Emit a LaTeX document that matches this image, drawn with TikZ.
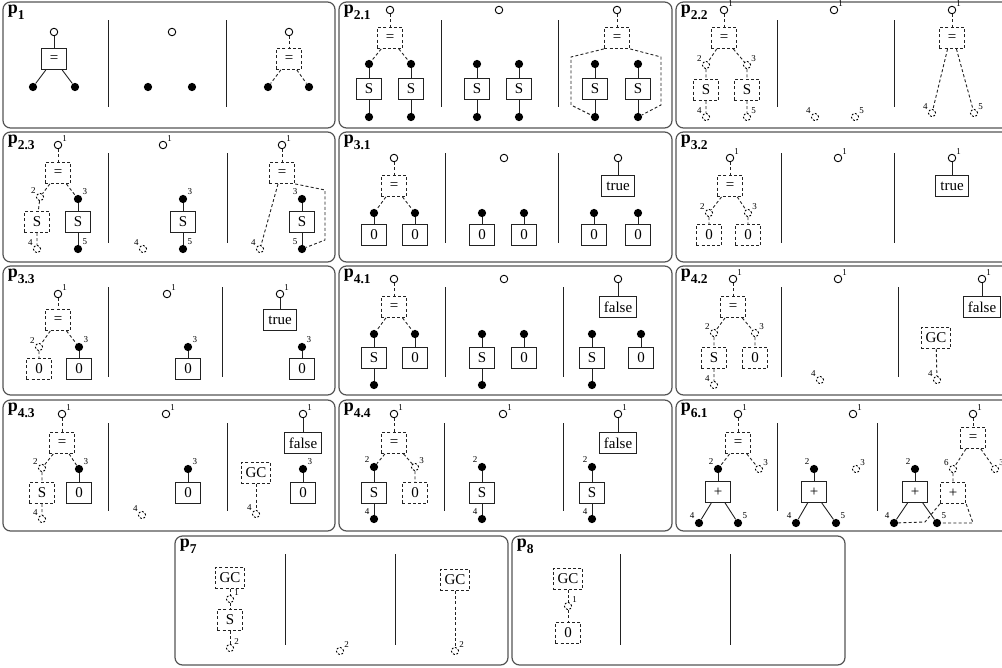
\documentclass[tikz,border=0pt]{standalone}
\usepackage{fontspec}
\setmainfont{Liberation Serif}
\usetikzlibrary{positioning}
\definecolor{frame}{HTML}{555555}
\definecolor{ink}{HTML}{222222}
\newcommand{\psub}[1]{p\raisebox{-0.75ex}{\small\bfseries #1}}

\begin{document}
\begin{tikzpicture}[x=0.6667pt, y=-0.6667pt, font=\normalsize,
    panel/.style={draw=frame, line width=0.8pt, rounded corners=5pt},
    divider/.style={draw=ink, line width=0.55pt},
    ptitle/.style={anchor=north west, font=\large\bfseries, inner sep=1pt},
    ext/.style={circle, draw=black, fill=white, line width=0.6pt, minimum size=5pt, inner sep=0pt},
    port/.style={circle, fill=black, minimum size=5.5pt, inner sep=0pt},
    ghost/.style={circle, draw=black, line width=0.6pt, dash pattern=on 1.3pt off 1.1pt,
                  minimum size=4.8pt, inner sep=0pt},
    op/.style={draw=ink, line width=0.6pt, minimum width=17pt, minimum height=14pt, inner sep=3pt},
    gop/.style={op, dash pattern=on 2pt off 1.5pt},
    wire/.style={draw=ink, line width=0.6pt},
    gwire/.style={wire, dash pattern=on 2pt off 1.5pt},
    num/.style={font=\fontsize{6}{7}\selectfont, inner sep=0.6pt},
    tagr/.style={label={[num]40:#1}},
    tagl/.style={label={[num]140:#1}}]
  \useasboundingbox (0,0) rectangle (1002,667);
  \clip (0,0) rectangle (1002,667);

  % frames
  \draw[panel] (3,2) rectangle (335,128);
  \draw[panel] (339,2) rectangle (672,128);
  \draw[panel] (676,2) rectangle (1009,128);
  \draw[panel] (3,132) rectangle (335,262);
  \draw[panel] (339,132) rectangle (672,262);
  \draw[panel] (676,132) rectangle (1009,262);
  \draw[panel] (3,266) rectangle (335,395);
  \draw[panel] (339,266) rectangle (672,395);
  \draw[panel] (676,266) rectangle (1009,395);
  \draw[panel] (3,400) rectangle (335,531);
  \draw[panel] (339,400) rectangle (672,531);
  \draw[panel] (676,400) rectangle (1009,531);
  \draw[panel] (175,536) rectangle (508,665);
  \draw[panel] (512,536) rectangle (845,665);

  \node[ptitle] (t1)  at (6,3)     {\psub{1}};
  \node[ptitle] (t21) at (342,3)   {\psub{2.1}};
  \node[ptitle] (t22) at (679,3)   {\psub{2.2}};
  \node[ptitle] (t23) at (6,133)   {\psub{2.3}};
  \node[ptitle] (t31) at (342,133) {\psub{3.1}};
  \node[ptitle] (t32) at (679,133) {\psub{3.2}};
  \node[ptitle] (t33) at (6,267)   {\psub{3.3}};
  \node[ptitle] (t41) at (342,267) {\psub{4.1}};
  \node[ptitle] (t42) at (679,267) {\psub{4.2}};
  \node[ptitle] (t43) at (6,401)   {\psub{4.3}};
  \node[ptitle] (t44) at (342,401) {\psub{4.4}};
  \node[ptitle] (t61) at (679,401) {\psub{6.1}};
  \node[ptitle] (t7)  at (178,537) {\psub{7}};
  \node[ptitle] (t8)  at (515,537) {\psub{8}};

  % dividers
  \draw[divider] (108,20) -- (108,107);  \draw[divider] (226,20) -- (226,107);
  \draw[divider] (441,20) -- (441,107);  \draw[divider] (558,20) -- (558,107);
  \draw[divider] (777,20) -- (777,107);  \draw[divider] (894,20) -- (894,107);
  \draw[divider] (108,153) -- (108,243); \draw[divider] (227,153) -- (227,243);
  \draw[divider] (445,153) -- (445,243); \draw[divider] (558,153) -- (558,243);
  \draw[divider] (781,153) -- (781,243); \draw[divider] (894,153) -- (894,243);
  \draw[divider] (108,287) -- (108,377); \draw[divider] (222,287) -- (222,377);
  \draw[divider] (445,287) -- (445,377); \draw[divider] (563,287) -- (563,377);
  \draw[divider] (781,287) -- (781,377); \draw[divider] (898,287) -- (898,377);
  \draw[divider] (108,423) -- (108,511); \draw[divider] (227,423) -- (227,511);
  \draw[divider] (444,423) -- (444,511); \draw[divider] (563,423) -- (563,511);
  \draw[divider] (777,423) -- (777,511); \draw[divider] (877,423) -- (877,511);
  \draw[divider] (285,554) -- (285,645); \draw[divider] (395,554) -- (395,645);
  \draw[divider] (620,554) -- (620,645); \draw[divider] (730,554) -- (730,645);

  % p1
  \node[ext] (a1r) at (54,32) {};
  \node[op] (a1q) at (54,59) {=};
  \node[port] (a1x) at (33,87) {};
  \node[port] (a1y) at (75,87) {};
  \draw[wire] (a1r) -- (a1q);
  \draw[wire] (a1q) -- (a1x);
  \draw[wire] (a1q) -- (a1y);
  \node[ext] (a2r) at (172,32) {};
  \node[port] (a2x) at (148,87) {};
  \node[port] (a2y) at (192,87) {};
  \node[ext] (a3r) at (289,32) {};
  \node[gop] (a3q) at (289,59) {=};
  \node[port] (a3x) at (268,87) {};
  \node[port] (a3y) at (309,87) {};
  \draw[gwire] (a3r) -- (a3q);
  \draw[gwire] (a3q) -- (a3x);
  \draw[gwire] (a3q) -- (a3y);

  % p2.1
  \node[ext] (b1r) at (390,10) {};
  \node[gop] (b1q) at (390,38) {=};
  \node[port] (b1x) at (369,64) {};
  \node[port] (b1y) at (411,64) {};
  \node[op] (b1s) at (369,89) {S};
  \node[op] (b1t) at (411,89) {S};
  \node[port] (b1u) at (369,117) {};
  \node[port] (b1v) at (411,117) {};
  \draw[gwire] (b1r) -- (b1q);
  \draw[gwire] (b1q) -- (b1x);
  \draw[gwire] (b1q) -- (b1y);
  \draw[wire] (b1x) -- (b1s) -- (b1u);
  \draw[wire] (b1y) -- (b1t) -- (b1v);
  \node[ext] (b2r) at (499,10) {};
  \node[port] (b2x) at (477,64) {};
  \node[port] (b2y) at (519,64) {};
  \node[op] (b2s) at (477,89) {S};
  \node[op] (b2t) at (519,89) {S};
  \node[port] (b2u) at (477,117) {};
  \node[port] (b2v) at (519,117) {};
  \draw[wire] (b2x) -- (b2s) -- (b2u);
  \draw[wire] (b2y) -- (b2t) -- (b2v);
  \node[ext] (b3r) at (617,10) {};
  \node[gop] (b3q) at (617,38) {=};
  \node[port] (b3x) at (595,64) {};
  \node[port] (b3y) at (638,64) {};
  \node[op] (b3s) at (595,89) {S};
  \node[op] (b3t) at (638,89) {S};
  \node[port] (b3u) at (595,117) {};
  \node[port] (b3v) at (638,117) {};
  \draw[gwire] (b3r) -- (b3q);
  \draw[wire] (b3x) -- (b3s) -- (b3u);
  \draw[wire] (b3y) -- (b3t) -- (b3v);
  \draw[gwire] (b3q.south west) -- (571,57) -- (571,105) -- (b3u);
  \draw[gwire] (b3q.south east) -- (661,57) -- (661,105) -- (b3v);

  % p2.2
  \node[ext, tagr=1] (c1r) at (724,10) {};
  \node[gop] (c1q) at (724,38) {=};
  \node[ghost, tagl=2] (c1g2) at (706,65) {};
  \node[ghost, tagr=3] (c1g3) at (747,65) {};
  \node[gop] (c1s) at (706,90) {S};
  \node[gop] (c1t) at (747,90) {S};
  \node[ghost, tagl=4] (c1g4) at (706,117) {};
  \node[ghost, tagr=5] (c1g5) at (747,117) {};
  \draw[gwire] (c1r) -- (c1q);
  \draw[gwire] (c1q) -- (c1g2) -- (c1s) -- (c1g4);
  \draw[gwire] (c1q) -- (c1g3) -- (c1t) -- (c1g5);
  \node[ext, tagr=1] (c2r) at (834,10) {};
  \node[ghost, tagl=4] (c2g4) at (815,117) {};
  \node[ghost, tagr=5] (c2g5) at (855,117) {};
  \node[ext, tagr=1] (c3r) at (952,10) {};
  \node[gop] (c3q) at (952,38) {=};
  \node[ghost, tagl=4] (c3g4) at (932,113) {};
  \node[ghost, tagr=5] (c3g5) at (974,113) {};
  \draw[gwire] (c3r) -- (c3q);
  \draw[gwire] (c3q.-112) -- (c3g4);
  \draw[gwire] (c3q.-68) -- (c3g5);

  % p2.3
  \node[ext, tagr=1] (d1r) at (58,145) {};
  \node[gop] (d1q) at (58,173) {=};
  \node[ghost, tagl=2] (d1g2) at (40,197) {};
  \node[port, tagr=3] (d1p3) at (78,199) {};
  \node[gop] (d1s) at (37,222) {S};
  \node[op] (d1t) at (78,222) {S};
  \node[ghost, tagl=4] (d1g4) at (37,249) {};
  \node[port, tagr=5] (d1p5) at (78,249) {};
  \draw[gwire] (d1r) -- (d1q);
  \draw[gwire] (d1q) -- (d1g2) -- (d1s) -- (d1g4);
  \draw[gwire] (d1q) -- (d1p3);
  \draw[wire] (d1p3) -- (d1t) -- (d1p5);
  \node[ext, tagr=1] (d2r) at (163,145) {};
  \node[port, tagr=3] (d2p3) at (183,199) {};
  \node[op] (d2t) at (183,222) {S};
  \node[port, tagr=5] (d2p5) at (183,249) {};
  \node[ghost, tagl=4] (d2g4) at (143,249) {};
  \draw[wire] (d2p3) -- (d2t) -- (d2p5);
  \node[ext, tagr=1] (d3r) at (282,145) {};
  \node[gop] (d3q) at (282,173) {=};
  \node[port, tagl=3] (d3p3) at (302,199) {};
  \node[op] (d3t) at (302,222) {S};
  \node[port, tagl=5] (d3p5) at (302,249) {};
  \node[ghost, tagl=4] (d3g4) at (260,249) {};
  \draw[gwire] (d3r) -- (d3q);
  \draw[wire] (d3p3) -- (d3t) -- (d3p5);
  \draw[gwire] (d3q.-110) -- (d3g4);
  \draw[gwire] (d3q.south east) -- (325,190) -- (325,240) -- (d3p5);

  % p3.1
  \node[ext] (e1r) at (394,158) {};
  \node[gop] (e1q) at (394,186) {=};
  \node[port] (e1x) at (374,213) {};
  \node[port] (e1y) at (415,213) {};
  \node[op] (e1s) at (374,235) {0};
  \node[op] (e1t) at (415,235) {0};
  \draw[gwire] (e1r) -- (e1q);
  \draw[gwire] (e1q) -- (e1x);
  \draw[gwire] (e1q) -- (e1y);
  \draw[wire] (e1x) -- (e1s);
  \draw[wire] (e1y) -- (e1t);
  \node[ext] (e2r) at (504,158) {};
  \node[port] (e2x) at (482,213) {};
  \node[port] (e2y) at (524,213) {};
  \node[op] (e2s) at (482,235) {0};
  \node[op] (e2t) at (524,235) {0};
  \draw[wire] (e2x) -- (e2s);
  \draw[wire] (e2y) -- (e2t);
  \node[ext] (e3r) at (618,158) {};
  \node[op] (e3q) at (618,186) {true};
  \node[port] (e3x) at (594,213) {};
  \node[port] (e3y) at (638,213) {};
  \node[op] (e3s) at (594,235) {0};
  \node[op] (e3t) at (638,235) {0};
  \draw[wire] (e3r) -- (e3q);
  \draw[wire] (e3x) -- (e3s);
  \draw[wire] (e3y) -- (e3t);

  % p3.2
  \node[ext, tagr=1] (f1r) at (730,158) {};
  \node[gop] (f1q) at (730,186) {=};
  \node[ghost, tagl=2] (f1g2) at (709,213) {};
  \node[ghost, tagr=3] (f1g3) at (748,213) {};
  \node[gop] (f1s) at (709,235) {0};
  \node[gop] (f1t) at (748,235) {0};
  \draw[gwire] (f1r) -- (f1q);
  \draw[gwire] (f1q) -- (f1g2) -- (f1s);
  \draw[gwire] (f1q) -- (f1g3) -- (f1t);
  \node[ext, tagr=1] (f2r) at (838,158) {};
  \node[ext, tagr=1] (f3r) at (952,158) {};
  \node[op] (f3q) at (952,186) {true};
  \draw[wire] (f3r) -- (f3q);

  % p3.3
  \node[ext, tagr=1] (g1r) at (58,294) {};
  \node[gop] (g1q) at (58,320) {=};
  \node[ghost, tagl=2] (g1g2) at (39,347) {};
  \node[port, tagr=3] (g1p3) at (79,347) {};
  \node[gop] (g1s) at (39,369) {0};
  \node[op] (g1t) at (79,369) {0};
  \draw[gwire] (g1r) -- (g1q);
  \draw[gwire] (g1q) -- (g1g2) -- (g1s);
  \draw[gwire] (g1q) -- (g1p3);
  \draw[wire] (g1p3) -- (g1t);
  \node[ext, tagr=1] (g2r) at (167,294) {};
  \node[port, tagr=3] (g2p3) at (188,347) {};
  \node[op] (g2t) at (188,369) {0};
  \draw[wire] (g2p3) -- (g2t);
  \node[ext, tagr=1] (g3r) at (280,294) {};
  \node[op] (g3q) at (280,320) {true};
  \node[port, tagr=3] (g3p3) at (302,347) {};
  \node[op] (g3t) at (302,369) {0};
  \draw[wire] (g3r) -- (g3q);
  \draw[wire] (g3p3) -- (g3t);

  % p4.1
  \node[ext] (h1r) at (394,279) {};
  \node[gop] (h1q) at (394,307) {=};
  \node[port] (h1x) at (374,334) {};
  \node[port] (h1y) at (415,334) {};
  \node[op] (h1s) at (374,358) {S};
  \node[op] (h1t) at (415,358) {0};
  \node[port] (h1u) at (374,385) {};
  \draw[gwire] (h1r) -- (h1q);
  \draw[gwire] (h1q) -- (h1x);
  \draw[gwire] (h1q) -- (h1y);
  \draw[wire] (h1x) -- (h1s) -- (h1u);
  \draw[wire] (h1y) -- (h1t);
  \node[ext] (h2r) at (504,279) {};
  \node[port] (h2x) at (482,334) {};
  \node[port] (h2y) at (524,334) {};
  \node[op] (h2s) at (482,358) {S};
  \node[op] (h2t) at (524,358) {0};
  \node[port] (h2u) at (482,385) {};
  \draw[wire] (h2x) -- (h2s) -- (h2u);
  \draw[wire] (h2y) -- (h2t);
  \node[ext] (h3r) at (618,279) {};
  \node[op] (h3q) at (618,307) {false};
  \node[port] (h3x) at (592,334) {};
  \node[port] (h3y) at (641,334) {};
  \node[op] (h3s) at (592,358) {S};
  \node[op] (h3t) at (641,358) {0};
  \node[port] (h3u) at (592,385) {};
  \draw[wire] (h3r) -- (h3q);
  \draw[wire] (h3x) -- (h3s) -- (h3u);
  \draw[wire] (h3y) -- (h3t);

  % p4.2
  \node[ext, tagr=1] (i1r) at (733,279) {};
  \node[gop] (i1q) at (733,307) {=};
  \node[ghost, tagl=2] (i1g2) at (714,333) {};
  \node[ghost, tagr=3] (i1g3) at (755,333) {};
  \node[gop] (i1s) at (714,358) {S};
  \node[gop] (i1t) at (755,358) {0};
  \node[ghost, tagl=4] (i1g4) at (714,385) {};
  \draw[gwire] (i1r) -- (i1q);
  \draw[gwire] (i1q) -- (i1g2) -- (i1s) -- (i1g4);
  \draw[gwire] (i1q) -- (i1g3) -- (i1t);
  \node[ext, tagr=1] (i2r) at (838,279) {};
  \node[ghost, tagl=4] (i2g4) at (820,380) {};
  \node[ext, tagr=1] (i3r) at (982,279) {};
  \node[op] (i3q) at (982,307) {false};
  \node[gop] (i3c) at (936,338) {GC};
  \node[ghost, tagl=4] (i3g4) at (937,380) {};
  \draw[wire] (i3r) -- (i3q);
  \draw[gwire] (i3c) -- (i3g4);

  % p4.3
  \node[ext, tagr=1] (j1r) at (62,414) {};
  \node[gop] (j1q) at (62,443) {=};
  \node[ghost, tagl=2] (j1g2) at (42,468) {};
  \node[port, tagr=3] (j1p3) at (79,469) {};
  \node[gop] (j1s) at (42,493) {S};
  \node[op] (j1t) at (79,493) {0};
  \node[ghost, tagl=4] (j1g4) at (42,519) {};
  \draw[gwire] (j1r) -- (j1q);
  \draw[gwire] (j1q) -- (j1g2) -- (j1s) -- (j1g4);
  \draw[gwire] (j1q) -- (j1p3);
  \draw[wire] (j1p3) -- (j1t);
  \node[ext, tagr=1] (j2r) at (166,414) {};
  \node[port, tagr=3] (j2p3) at (188,469) {};
  \node[op] (j2t) at (188,493) {0};
  \node[ghost, tagl=4] (j2g4) at (142,515) {};
  \draw[wire] (j2p3) -- (j2t);
  \node[ext, tagr=1] (j3r) at (303,414) {};
  \node[op] (j3q) at (303,443) {false};
  \node[gop] (j3c) at (256,473) {GC};
  \node[ghost, tagl=4] (j3g4) at (256,514) {};
  \node[port, tagr=3] (j3p3) at (303,469) {};
  \node[op] (j3t) at (303,493) {0};
  \draw[wire] (j3r) -- (j3q);
  \draw[gwire] (j3c) -- (j3g4);
  \draw[wire] (j3p3) -- (j3t);

  % p4.4
  \node[ext, tagr=1] (k1r) at (394,414) {};
  \node[gop] (k1q) at (394,443) {=};
  \node[port, tagl=2] (k1p2) at (374,467) {};
  \node[ghost, tagr=3] (k1g3) at (415,467) {};
  \node[op] (k1s) at (374,493) {S};
  \node[gop] (k1t) at (415,493) {0};
  \node[port, tagl=4] (k1p4) at (374,519) {};
  \draw[gwire] (k1r) -- (k1q);
  \draw[gwire] (k1q) -- (k1p2);
  \draw[gwire] (k1q) -- (k1g3) -- (k1t);
  \draw[wire] (k1p2) -- (k1s) -- (k1p4);
  \node[ext, tagr=1] (k2r) at (503,414) {};
  \node[port, tagl=2] (k2p2) at (482,467) {};
  \node[op] (k2s) at (482,493) {S};
  \node[port, tagl=4] (k2p4) at (482,519) {};
  \draw[wire] (k2p2) -- (k2s) -- (k2p4);
  \node[ext, tagr=1] (k3r) at (618,414) {};
  \node[op] (k3q) at (618,443) {false};
  \node[port, tagl=2] (k3p2) at (592,467) {};
  \node[op] (k3s) at (592,493) {S};
  \node[port, tagl=4] (k3p4) at (592,519) {};
  \draw[wire] (k3r) -- (k3q);
  \draw[wire] (k3p2) -- (k3s) -- (k3p4);

  % p6.1
  \node[ext, tagr=1] (l1r) at (738,414) {};
  \node[gop] (l1q) at (738,443) {=};
  \node[port, tagl=2] (l1p2) at (718,469) {};
  \node[ghost, tagr=3] (l1g3) at (759,469) {};
  \node[op] (l1s) at (718,492) {+};
  \node[port, tagl=4] (l1p4) at (699,523) {};
  \node[port, tagr=5] (l1p5) at (738,523) {};
  \draw[gwire] (l1r) -- (l1q);
  \draw[gwire] (l1q) -- (l1p2);
  \draw[gwire] (l1q) -- (l1g3);
  \draw[wire] (l1p2) -- (l1s);
  \draw[wire] (l1s) -- (l1p4);
  \draw[wire] (l1s) -- (l1p5);
  \node[ext, tagr=1] (l2r) at (853,414) {};
  \node[port, tagl=2] (l2p2) at (814,469) {};
  \node[ghost, tagr=3] (l2g3) at (856,469) {};
  \node[op] (l2s) at (814,492) {+};
  \node[port, tagl=4] (l2p4) at (796,523) {};
  \node[port, tagr=5] (l2p5) at (836,523) {};
  \draw[wire] (l2p2) -- (l2s);
  \draw[wire] (l2s) -- (l2p4);
  \draw[wire] (l2s) -- (l2p5);
  \node[ext, tagr=1] (l3r) at (973,414) {};
  \node[gop] (l3q) at (973,438) {=};
  \node[ghost, tagl=6] (l3g6) at (953,469) {};
  \node[ghost, tagr=3] (l3g3) at (995,469) {};
  \node[port, tagl=2] (l3p2) at (915,469) {};
  \node[op] (l3s) at (915,492) {+};
  \node[gop] (l3h) at (953,493) {+};
  \node[port, tagl=4] (l3p4) at (894,523) {};
  \node[port, tagr=5] (l3p5) at (937,523) {};
  \draw[gwire] (l3r) -- (l3q);
  \draw[gwire] (l3q) -- (l3g6) -- (l3h);
  \draw[gwire] (l3q) -- (l3g3);
  \draw[wire] (l3p2) -- (l3s);
  \draw[wire] (l3s) -- (l3p4);
  \draw[wire] (l3s) -- (l3p5);
  \draw[gwire] (l3h.south west) -- (925,522) -- (l3p4);
  \draw[gwire] (l3h.south east) -- (973,523) -- (l3p5);

  % p7
  \node[gop] (m1c) at (230,578) {GC};
  \node[ghost, tagr=1] (m1g1) at (230,599) {};
  \node[gop] (m1s) at (230,620) {S};
  \node[ghost, tagr=2] (m1g2) at (230,648) {};
  \draw[gwire] (m1c) -- (m1g1) -- (m1s) -- (m1g2);
  \node[ghost, tagr=2] (m2g2) at (340,651) {};
  \node[gop] (m3c) at (455,580) {GC};
  \node[ghost, tagr=2] (m3g2) at (455,651) {};
  \draw[gwire] (m3c) -- (m3g2);

  % p8
  \node[gop] (n1c) at (568,579) {GC};
  \node[ghost, tagr=1] (n1g1) at (568,606) {};
  \node[gop] (n1z) at (568,633) {0};
  \draw[gwire] (n1c) -- (n1g1) -- (n1z);
\end{tikzpicture}
\end{document}
